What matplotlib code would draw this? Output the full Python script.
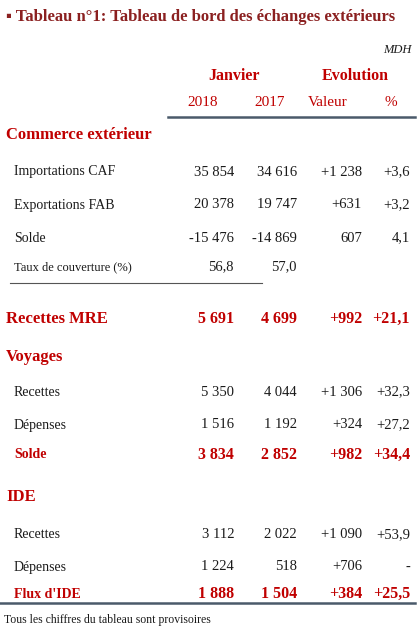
import matplotlib
matplotlib.use("Agg")
import matplotlib.pyplot as plt

W, H = 420, 636
DARK = "#8B2020"
RED = "#C00000"
BLACK = "#1a1a1a"
FONT = "Liberation Serif"

labels = ["Commerce extérieur", "Importations CAF", "Exportations FAB", "Solde", "Taux de couverture (%)",
          "Recettes MRE", "Voyages", "Recettes", "Dépenses", "Solde",
          "IDE", "Recettes", "Dépenses", "Flux d'IDE"]
kinds = ["sec", "row", "row", "row", "small", "secrow", "sec", "row", "row", "tot", "sec", "row", "row", "tot"]
v2018 = ["", "35 854", "20 378", "-15 476", "56,8", "5 691", "", "5 350", "1 516", "3 834", "", "3 112", "1 224", "1 888"]
v2017 = ["", "34 616", "19 747", "-14 869", "57,0", "4 699", "", "4 044", "1 192", "2 852", "", "2 022", "518", "1 504"]
valeur = ["", "+1 238", "+631", "607", "", "+992", "", "+1 306", "+324", "+982", "", "+1 090", "+706", "+384"]
pct = ["", "+3,6", "+3,2", "4,1", "", "+21,1", "", "+32,3", "+27,2", "+34,4", "", "+53,9", "-", "+25,5"]
row_y = [135, 172, 205, 238, 267, 319, 357, 392, 425, 455, 497, 535, 567, 594]

fig = plt.figure(figsize=(W / 100, H / 100), dpi=100)
ax = fig.add_axes([0, 0, 1, 1])
ax.set_xlim(0, W); ax.set_ylim(H, 0); ax.axis("off")

def t(x, y, s, **kw):
    kw.setdefault("family", FONT)
    ax.text(x, y, s, va="center", **kw)

t(6, 17, "▪ Tableau n°1: Tableau de bord des échanges extérieurs", fontsize=12, weight="bold", color=DARK,
  family=[FONT, "DejaVu Sans"])
t(412, 50, "MDH", fontsize=9, style="italic", ha="right", color=BLACK)
t(234, 76, "Janvier", fontsize=11.5, weight="bold", color=RED, ha="center")
t(355, 76, "Evolution", fontsize=11.5, weight="bold", color=RED, ha="center")
for x, s in [(203, "2018"), (270, "2017"), (328, "Valeur"), (391, "%")]:
    t(x, 103, s, fontsize=11, color=RED, ha="center")
ax.plot([168, 415], [117, 117], color="#4a5a6a", lw=1.8)

cols = [234, 297, 362, 410]
for lab, k, a, b, c, d, y in zip(labels, kinds, v2018, v2017, valeur, pct, row_y):
    if k == "sec" or k == "secrow":
        t(6, y, lab, fontsize=12, weight="bold", color=RED)
    elif k == "tot":
        t(14, y, lab, fontsize=10, weight="bold", color=RED)
    elif k == "small":
        t(14, y, lab, fontsize=9, color=BLACK)
    else:
        t(14, y, lab, fontsize=10, color=BLACK)
    bold = k in ("secrow", "tot")
    for x, s in zip(cols, [a, b, c, d]):
        if s:
            t(x, y, s, fontsize=11.5 if bold else 10.5, weight="bold" if bold else "normal",
              color=RED if bold else BLACK, ha="right")

ax.plot([10, 262], [283, 283], color="#555555", lw=0.8)
ax.plot([0, 415], [603, 603], color="#4a5a6a", lw=1.8)
t(4, 620, "Tous les chiffres du tableau sont provisoires", fontsize=8.5, color=BLACK)

fig.savefig("out.png", dpi=100, facecolor="white")
